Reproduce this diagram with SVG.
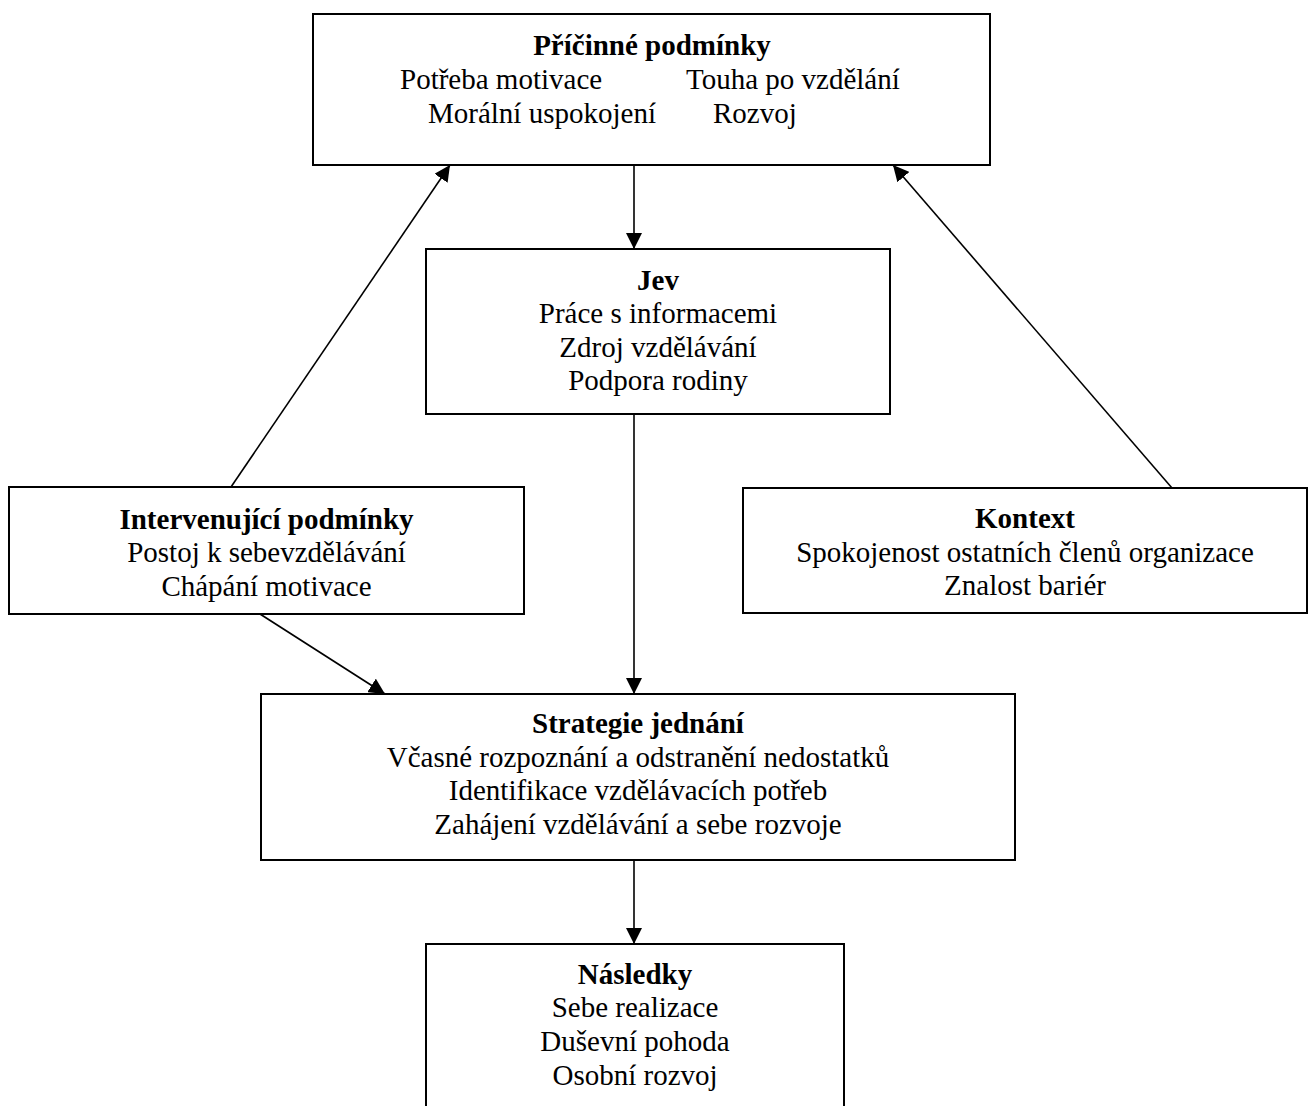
<svg xmlns="http://www.w3.org/2000/svg" width="1311" height="1106" viewBox="0 0 1311 1106">
<style>
.box{fill:#fff;stroke:#000;stroke-width:2}
.t{font-family:"Liberation Serif","Times New Roman",serif;font-size:29px;fill:#000}
.h{font-weight:bold}
.c{text-anchor:middle}
.con line{stroke:#000;stroke-width:1.6}
</style>
<defs>
<marker id="ah" markerUnits="userSpaceOnUse" markerWidth="16" markerHeight="16" refX="16" refY="8" orient="auto">
<path d="M0,0 L16,8 L0,16 Z" fill="#000"/>
</marker>
</defs>
<rect width="1311" height="1106" fill="#fff"/>
<g id="connectors" class="con">
<line x1="634" y1="165" x2="634" y2="249" marker-end="url(#ah)"/>
<line x1="634" y1="414" x2="634" y2="694" marker-end="url(#ah)"/>
<line x1="231" y1="487" x2="450" y2="165" marker-end="url(#ah)"/>
<line x1="1172" y1="488" x2="893" y2="165" marker-end="url(#ah)"/>
<line x1="260" y1="614" x2="385" y2="694" marker-end="url(#ah)"/>
<line x1="634" y1="860" x2="634" y2="944" marker-end="url(#ah)"/>
</g>
<g id="pricinne">
<rect class="box" x="313" y="14" width="677" height="151"/>
<text class="t h c" x="652" y="55">Příčinné podmínky</text>
<text class="t" x="400" y="89">Potřeba motivace</text>
<text class="t" x="686" y="89">Touha po vzdělání</text>
<text class="t" x="428" y="123">Morální uspokojení</text>
<text class="t" x="713" y="123">Rozvoj</text>
</g>
<g id="jev">
<rect class="box" x="426" y="249" width="464" height="165"/>
<text class="t h c" x="658" y="290">Jev</text>
<text class="t c" x="658" y="323">Práce s informacemi</text>
<text class="t c" x="658" y="357">Zdroj vzdělávání</text>
<text class="t c" x="658" y="390">Podpora rodiny</text>
</g>
<g id="intervenujici">
<rect class="box" x="9" y="487" width="515" height="127"/>
<text class="t h c" x="266.5" y="529">Intervenující podmínky</text>
<text class="t c" x="266.5" y="562">Postoj k sebevzdělávání</text>
<text class="t c" x="266.5" y="596">Chápání motivace</text>
</g>
<g id="kontext">
<rect class="box" x="743" y="488" width="564" height="125"/>
<text class="t h c" x="1025" y="528">Kontext</text>
<text class="t c" x="1025" y="562">Spokojenost ostatních členů organizace</text>
<text class="t c" x="1025" y="595">Znalost bariér</text>
</g>
<g id="strategie">
<rect class="box" x="261" y="694" width="754" height="166"/>
<text class="t h c" x="638" y="733">Strategie jednání</text>
<text class="t c" x="638" y="767">Včasné rozpoznání a odstranění nedostatků</text>
<text class="t c" x="638" y="800">Identifikace vzdělávacích potřeb</text>
<text class="t c" x="638" y="834">Zahájení vzdělávání a sebe rozvoje</text>
</g>
<g id="nasledky">
<rect class="box" x="426" y="944" width="418" height="200"/>
<text class="t h c" x="635" y="984">Následky</text>
<text class="t c" x="635" y="1017">Sebe realizace</text>
<text class="t c" x="635" y="1051">Duševní pohoda</text>
<text class="t c" x="635" y="1085">Osobní rozvoj</text>
</g>
</svg>
